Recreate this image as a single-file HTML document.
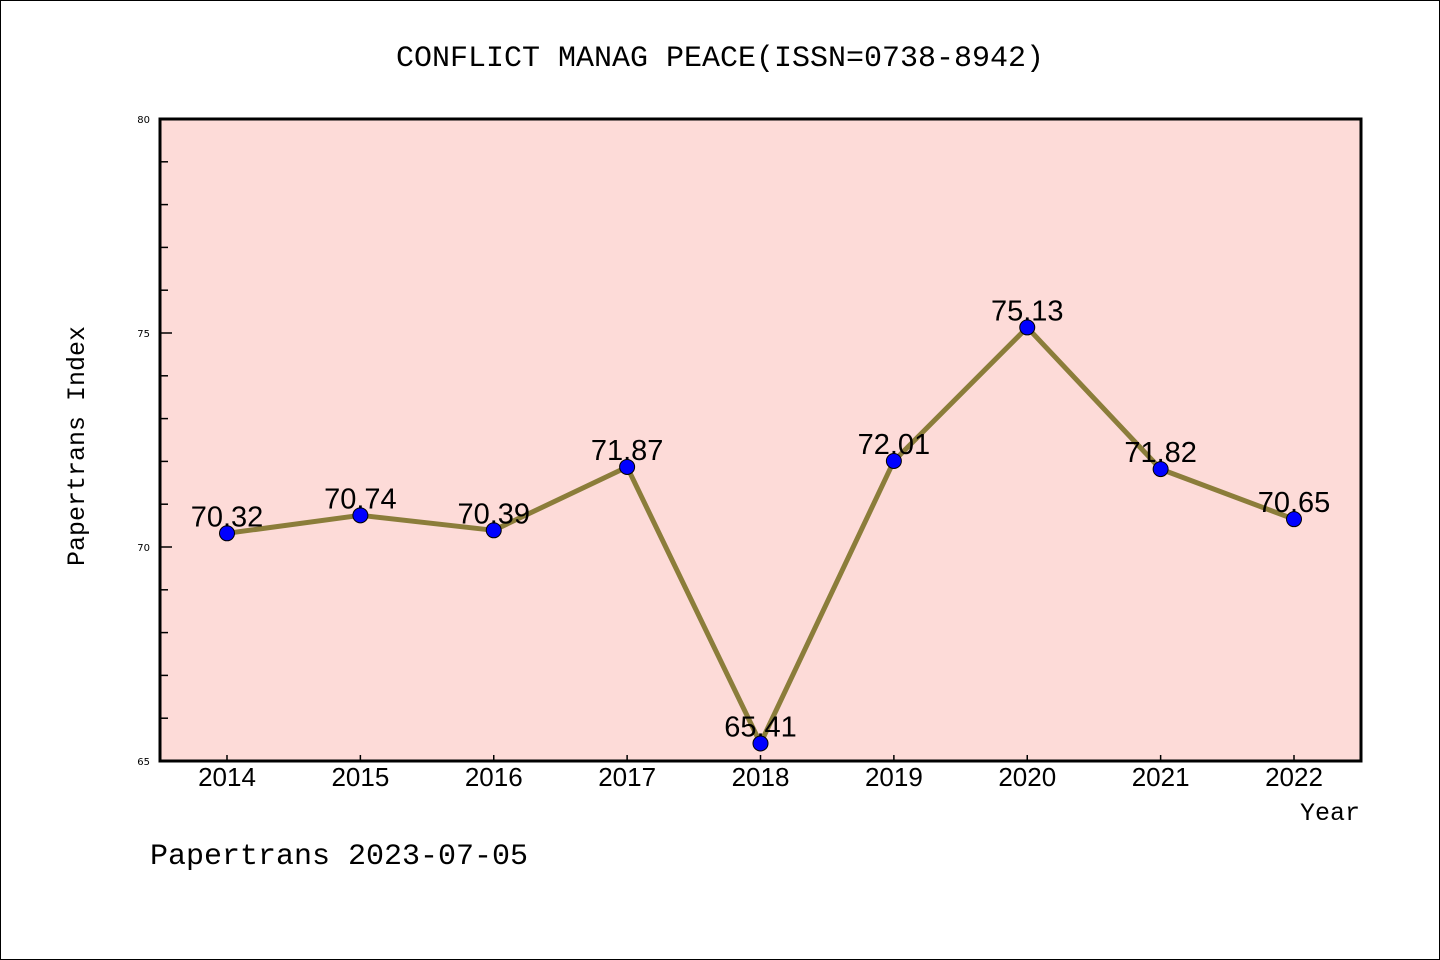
<!DOCTYPE html>
<html><head><meta charset="utf-8"><style>
body{margin:0;background:#fff;}
svg{display:block;font-family:"Liberation Mono","DejaVu Sans Mono",monospace;}
</style></head><body>
<svg width="1440" height="960">
<rect x="0.5" y="0.5" width="1439" height="959" fill="#fff" stroke="#000"/>
<text x="720" y="66" text-anchor="middle" font-size="30">CONFLICT MANAG PEACE(ISSN=0738-8942)</text>
<rect x="160" y="119" width="1201" height="642" fill="#fddbd8"/>
<g id="axes"></g>
<g id="series"></g>
<rect x="160" y="119" width="1201" height="642" fill="none" stroke="#000" stroke-width="3"/>
<text x="84" y="446" transform="rotate(-90 84 446)" text-anchor="middle" font-size="25">Papertrans Index</text>
<text x="1360" y="820" text-anchor="end" font-size="25">Year</text>
<text x="150" y="864" font-size="30">Papertrans 2023-07-05</text>
</svg>
<script>
const years=[2014,2015,2016,2017,2018,2019,2020,2021,2022];
const values=[70.32,70.74,70.39,71.87,65.41,72.01,75.13,71.82,70.65];
const yTicks=[65,70,75,80];
const NS="http://www.w3.org/2000/svg";
const x0=160,x1=1361,y0=119,y1=761,yMin=65,yMax=80;
function xs(i){return 227+i*(1294-227)/(years.length-1);}
function ys(v){return y1-(v-yMin)/(yMax-yMin)*(y1-y0);}
function mk(t,a,p){const e=document.createElementNS(NS,t);for(const k in a)e.setAttribute(k,a[k]);p.appendChild(e);return e;}
const ax=document.getElementById('axes'),se=document.getElementById('series');
for(let v=yMin;v<=yMax;v++){
 const major=yTicks.includes(v);
 const l=mk('line',{x1:x0,x2:x0+(major?12:8),y1:ys(v),y2:ys(v),stroke:'#000','stroke-width':1.5},ax);
 
 
}
yTicks.forEach(v=>{
 const t=mk('text',{x:150,y:ys(v)+4,'text-anchor':'end','font-size':10,'font-family':'DejaVu Sans,sans-serif'},ax);
 t.textContent=v;
 
 
});
years.forEach((yr,i)=>{
 const l=mk('line',{x1:xs(i),x2:xs(i),y1:y1,y2:y1-6,stroke:'#000','stroke-width':1.5},ax);
 
 
 const t=mk('text',{x:xs(i),y:786,'text-anchor':'middle','font-size':26,'font-family':'Liberation Sans,sans-serif'},ax);
 t.textContent=yr;
 
 
});
const pl=mk('polyline',{points:values.map((v,i)=>xs(i)+','+ys(v)).join(' '),fill:'none',stroke:'#8b7d3a','stroke-width':5,'stroke-linejoin':'round'},se);


values.forEach((v,i)=>{
 const c=mk('circle',{cx:xs(i),cy:ys(v),r:7.5,fill:'#0000ff',stroke:'#000','stroke-width':1},se);
 
 
 const t=mk('text',{x:xs(i),y:ys(v)-7,'text-anchor':'middle','font-size':29,'font-family':'Liberation Sans,sans-serif'},se);
 t.textContent=v.toFixed(2);
 
 
});
</script>
</body></html>
